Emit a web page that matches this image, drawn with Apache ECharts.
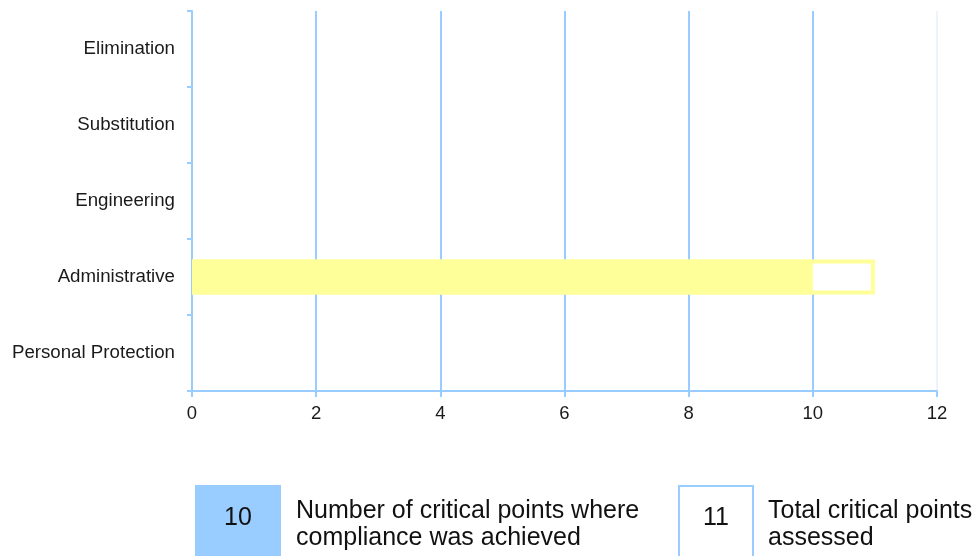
<!DOCTYPE html>
<html>
<head>
<meta charset="utf-8">
<script src="https://cdn.jsdelivr.net/npm/echarts@6/dist/echarts.min.js"></script>
<style>
  html, body { margin: 0; padding: 0; background: #ffffff; }
  #chart { width: 975px; height: 556px; }
</style>
</head>
<body>
<div id="chart"></div>
<script>
const categories = ['Elimination', 'Substitution', 'Engineering', 'Administrative', 'Personal Protection'];
const achievedValues = [null, null, null, 10, null];
const totalValues = [null, null, null, 11, null];
const xTicks = { min: 0, max: 12, interval: 2 };
const legendLabels = ['Number of critical points where\ncompliance was achieved', 'Total critical points\nassessed'];

const sum = arr => arr.reduce((a, v) => a + (v || 0), 0);
const achievedSum = sum(achievedValues);
const totalSum = sum(totalValues);

const BLUE = '#99CCFF';
const YELLOW = '#FFFF99';
const FONT = 'Liberation Sans, Arial, sans-serif';

const chart = echarts.init(document.getElementById('chart'), null, { renderer: 'canvas' });

const splitColors = [];
for (let v = xTicks.min; v <= xTicks.max; v += xTicks.interval) {
  splitColors.push(v === xTicks.max ? '#EEF4FB' : BLUE);
}

chart.setOption({
  animation: false,
  backgroundColor: '#ffffff',
  grid: { left: 192, right: 38, top: 11, bottom: 165, containLabel: false },
  xAxis: {
    type: 'value',
    min: xTicks.min,
    max: xTicks.max,
    interval: xTicks.interval,
    axisLine: { show: true, lineStyle: { color: BLUE, width: 2 } },
    axisTick: { show: true, length: 6, lineStyle: { color: BLUE, width: 2 } },
    axisLabel: { color: '#1a1a1a', fontSize: 18.5, fontFamily: FONT, margin: 13 },
    splitLine: { show: true, lineStyle: { color: splitColors, width: 2 } }
  },
  yAxis: {
    type: 'category',
    data: categories,
    inverse: true,
    axisLine: { show: true, lineStyle: { color: BLUE, width: 2 } },
    axisTick: { show: true, length: 5, lineStyle: { color: BLUE, width: 2 } },
    axisLabel: { color: '#1a1a1a', fontSize: 18.7, fontFamily: FONT, margin: 17 },
    splitLine: { show: false }
  },
  series: [
    {
      name: 'Total critical points assessed',
      type: 'bar',
      data: totalValues,
      barWidth: 35,
      itemStyle: { color: '#ffffff', borderColor: YELLOW, borderWidth: 4 },
      z: 2
    },
    {
      name: 'Number of critical points where compliance was achieved',
      type: 'bar',
      data: achievedValues,
      barWidth: 35,
      barGap: '-100%',
      itemStyle: { color: YELLOW, borderColor: YELLOW, borderWidth: 4 },
      z: 3
    }
  ],
  graphic: [
    { type: 'rect', shape: { x: 195, y: 485, width: 86, height: 100 }, style: { fill: BLUE } },
    { type: 'text', x: 238, y: 518, style: { text: String(achievedSum), fill: '#111', font: '25px ' + FONT, textAlign: 'center', textVerticalAlign: 'middle' } },
    { type: 'text', x: 296, y: 498, style: { text: legendLabels[0], fill: '#111', font: '25px ' + FONT, lineHeight: 27, textAlign: 'left', textVerticalAlign: 'top' } },
    { type: 'rect', shape: { x: 679, y: 486, width: 74, height: 100 }, style: { fill: '#ffffff', stroke: BLUE, lineWidth: 2 } },
    { type: 'text', x: 716, y: 518, style: { text: String(totalSum), fill: '#111', font: '25px ' + FONT, textAlign: 'center', textVerticalAlign: 'middle' } },
    { type: 'text', x: 768, y: 498, style: { text: legendLabels[1], fill: '#111', font: '25px ' + FONT, lineHeight: 27, textAlign: 'left', textVerticalAlign: 'top' } }
  ]
});
</script>
</body>
</html>
